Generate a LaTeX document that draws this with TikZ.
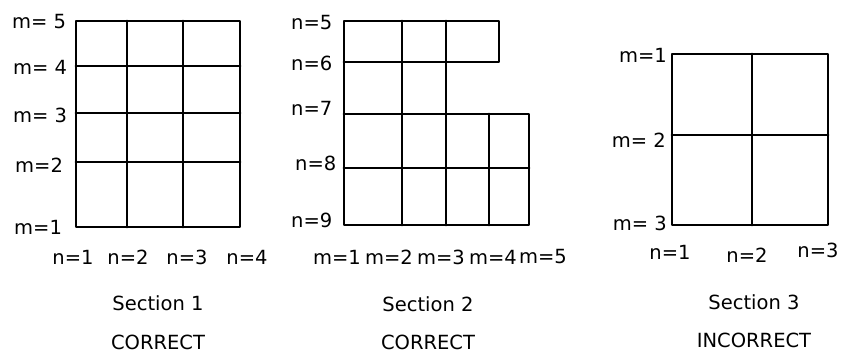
\documentclass[tikz,border=0pt]{standalone}
\usepackage{fontspec}
\setmainfont{DejaVu Sans}
\usetikzlibrary{positioning}
\tikzset{
  % thick black cell edges, as in the scanned figure
  gridln/.style = {line width=2.9pt, line join=round, line cap=round},
  lbl/.style    = {inner sep=0pt, font=\fontsize{19.5}{22}\selectfont},
  captxt/.style = {inner sep=0pt, font=\fontsize{19.5}{22}\selectfont},
}

\begin{document}
\begin{tikzpicture}[x=1pt,y=-1pt]
\useasboundingbox (0,0) rectangle (845,357);

% Section 1: 4 x 3 cells
\draw[gridln] (76,21) rectangle (240,227);
\draw[gridln] (127,21) -- (127,227) (183,21) -- (183,227);
\draw[gridln] (76,66) -- (240,66) (76,113) -- (240,113) (76,162) -- (240,162);
\node[lbl, anchor=west] (s1m5) at (12,22)  {m= 5};
\node[lbl, anchor=west] (s1m4) at (13,67)  {m= 4};
\node[lbl, anchor=west] (s1m3) at (13,115) {m= 3};
\node[lbl, anchor=west] (s1m2) at (15,165) {m=2};
\node[lbl, anchor=west] (s1m1) at (14,227) {m=1};
\node[lbl] (s1n1) at (73,257)  {n=1};
\node[lbl] (s1n2) at (128,257) {n=2};
\node[lbl] (s1n3) at (187,257) {n=3};
\node[lbl] (s1n4) at (247,257) {n=4};

% Section 2: stepped block
\draw[gridln] (344,21) -- (499,21) -- (499,62) -- (446,62) -- (446,114)
              -- (529,114) -- (529,225) -- (344,225) -- cycle;
\draw[gridln] (344,62) -- (446,62) (344,114) -- (446,114) (344,168) -- (529,168);
\draw[gridln] (402,21) -- (402,225) (446,21) -- (446,62) (446,114) -- (446,225)
              (489,114) -- (489,225);
\node[lbl, anchor=west] (s2n5) at (291,23)  {n=5};
\node[lbl, anchor=west] (s2n6) at (291,63)  {n=6};
\node[lbl, anchor=west] (s2n7) at (291,108) {n=7};
\node[lbl, anchor=west] (s2n8) at (295,163) {n=8};
\node[lbl, anchor=west] (s2n9) at (291,220) {n=9};
\node[lbl] (s2m1) at (337,257) {m=1};
\node[lbl] (s2m2) at (389,257) {m=2};
\node[lbl] (s2m3) at (441,257) {m=3};
\node[lbl] (s2m4) at (493,257) {m=4};
\node[lbl] (s2m5) at (543,257) {m=5};

% Section 3: 2 x 2 cells
\draw[gridln] (672,54) rectangle (828,225);
\draw[gridln] (752,54) -- (752,225) (672,135) -- (828,135);
\node[lbl, anchor=east] (s3m1) at (667,55)  {m=1};
\node[lbl, anchor=east] (s3m2) at (666,140) {m= 2};
\node[lbl, anchor=east] (s3m3) at (667,223) {m= 3};
\node[lbl] (s3n1) at (670,252) {n=1};
\node[lbl] (s3n2) at (747,255) {n=2};
\node[lbl] (s3n3) at (818,250) {n=3};

% captions
\node[captxt] (sec1) at (158,303) {Section 1};
\node[captxt] (sec2) at (428,304) {Section 2};
\node[captxt] (sec3) at (754,302) {Section 3};
\node[captxt, below=39pt of sec1.center, anchor=center] (ok1) {CORRECT};
\node[captxt, below=38pt of sec2.center, anchor=center] (ok2) {CORRECT};
\node[captxt, below=38pt of sec3.center, anchor=center] (bad3) {INCORRECT};
\end{tikzpicture}
\end{document}
